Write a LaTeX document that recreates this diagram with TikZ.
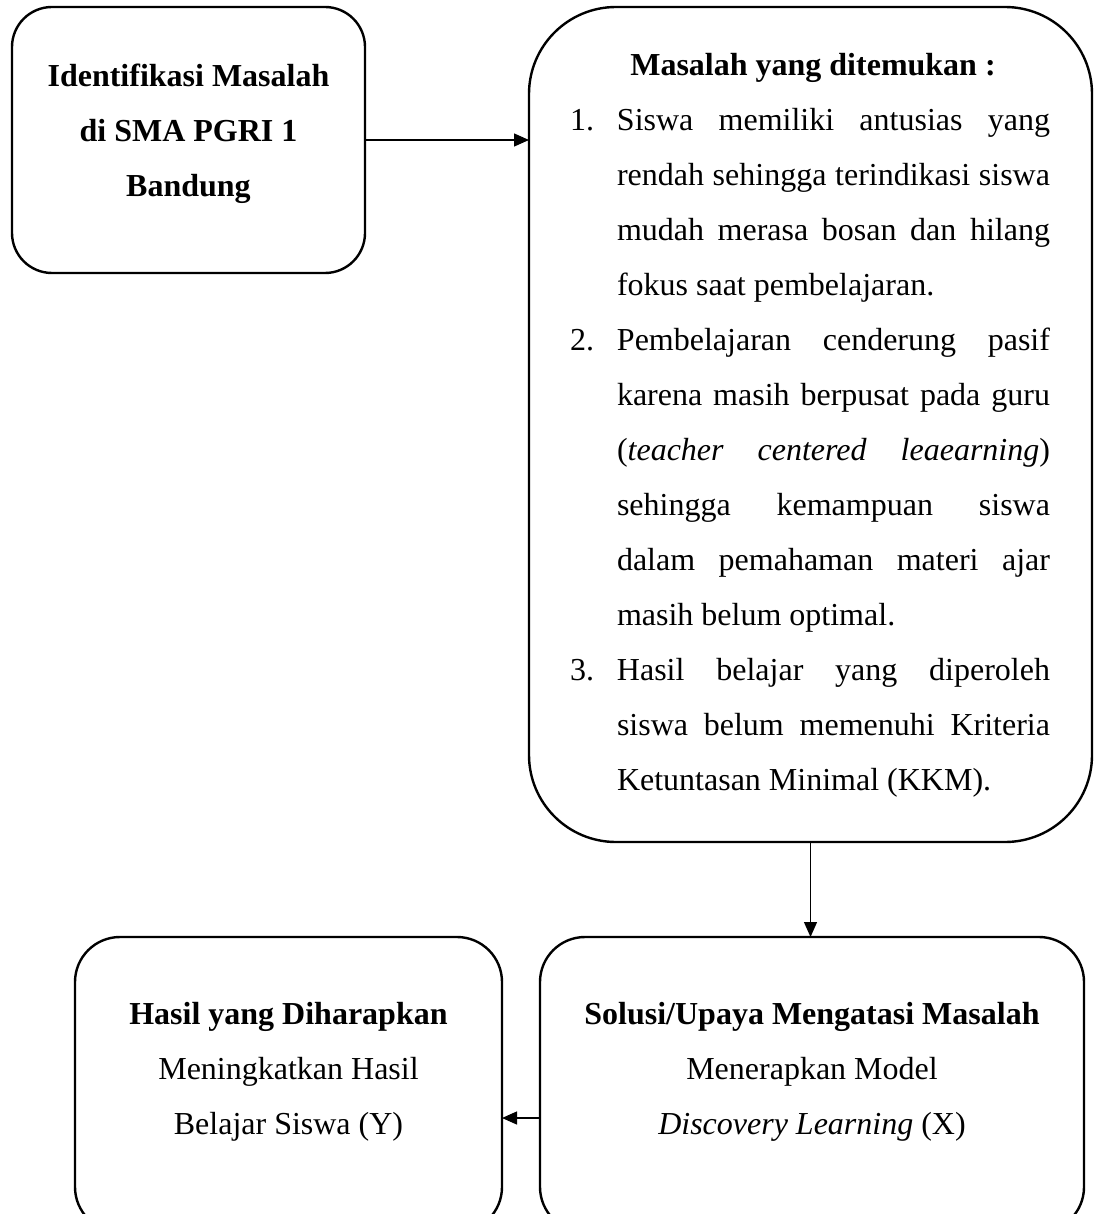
\documentclass[tikz,border=0pt]{standalone}
\usepackage{fontspec}
\setmainfont{Liberation Serif}
\usetikzlibrary{arrows.meta}
\begin{document}
\begin{tikzpicture}[x=1pt,y=-1pt,
  box/.style={draw, line width=2.4pt, inner sep=0pt, outer sep=0pt},
  txt/.style={inner sep=0pt, outer sep=0pt, anchor=base, font=\fontsize{32}{55}\selectfont},
  arr/.style={line width=1.3pt, -{Triangle[length=15pt,width=13pt]}}]
\useasboundingbox (0,0) rectangle (1099,1214);
\clip (0,0) rectangle (1099,1214);
% boxes
\node[box, rounded corners=40pt, minimum width=353pt, minimum height=266pt] (b1) at (188.5,140) {};
\node[box, rounded corners=87pt, minimum width=563pt, minimum height=835pt] (b2) at (810.5,424.5) {};
\node[box, rounded corners=45pt, minimum width=427pt, minimum height=295pt] (b3) at (288.5,1084.5) {};
\node[box, rounded corners=45pt, minimum width=544pt, minimum height=295pt] (b4) at (812,1084.5) {};
% texts
\node[txt] (t1) at (188.5,87) {\parbox[t]{353pt}{\centering\bfseries Identifikasi Masalah\\ di SMA PGRI 1\\ Bandung}};
\node[txt, anchor=base west] (t2) at (570,76) {\parbox[t]{480pt}{%
\hspace*{6pt}\makebox[474pt][c]{\bfseries Masalah yang ditemukan :}\\
\makebox[47pt][l]{1.}\makebox[433pt][s]{Siswa memiliki antusias yang}\\
\hspace*{47pt}\makebox[433pt][s]{rendah sehingga terindikasi siswa}\\
\hspace*{47pt}\makebox[433pt][s]{mudah merasa bosan dan hilang}\\
\hspace*{47pt}fokus saat pembelajaran.\\
\makebox[47pt][l]{2.}\makebox[433pt][s]{Pembelajaran cenderung pasif}\\
\hspace*{47pt}\makebox[433pt][s]{karena masih berpusat pada guru}\\
\hspace*{47pt}\makebox[433pt][s]{(\itshape teacher centered leaearning\/\upshape)}\\
\hspace*{47pt}\makebox[433pt][s]{sehingga kemampuan siswa}\\
\hspace*{47pt}\makebox[433pt][s]{dalam pemahaman materi ajar}\\
\hspace*{47pt}masih belum optimal.\\
\makebox[47pt][l]{3.}\makebox[433pt][s]{Hasil belajar yang diperoleh}\\
\hspace*{47pt}\makebox[433pt][s]{siswa belum memenuhi Kriteria}\\
\hspace*{47pt}Ketuntasan Minimal (KKM).}};
\node[txt] (t3) at (288.5,1024) {\parbox[t]{427pt}{\centering\textbf{Hasil yang Diharapkan}\\ Meningkatkan Hasil\\ Belajar Siswa (Y)}};
\node[txt] (t4) at (812,1024) {\parbox[t]{544pt}{\centering\textbf{Solusi/Upaya Mengatasi Masalah}\\ Menerapkan Model\\ \textit{Discovery Learning} (X)}};
% connectors
\draw[arr] (b1.east) -- (b1.east -| b2.west);
\draw[arr] (b2.south) -- (b2.south |- b4.north);
\coordinate (a3) at (540,1118);
\draw[arr] (a3) -- (a3 -| b3.east);
\end{tikzpicture}
\end{document}
